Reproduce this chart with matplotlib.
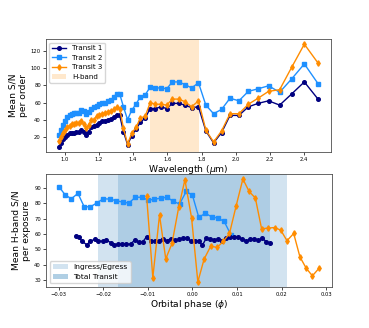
import matplotlib
matplotlib.use('Agg')
import matplotlib.pyplot as plt
from matplotlib.patches import Patch

# top panel: mean S/N per order
wave = [0.966, 0.978, 0.990, 1.003, 1.016, 1.029, 1.042, 1.055, 1.069, 1.083,
        1.097, 1.111, 1.126, 1.141, 1.156, 1.171, 1.187, 1.203, 1.219, 1.236,
        1.253, 1.270, 1.287, 1.304, 1.322, 1.344, 1.368, 1.392, 1.417, 1.443,
        1.471, 1.500, 1.531, 1.563, 1.596, 1.630, 1.666, 1.703, 1.742, 1.782,
        1.825, 1.870, 1.917, 1.966, 2.018, 2.073, 2.130, 2.191, 2.256, 2.326,
        2.400, 2.480]
sn_t1 = [8.5, 13, 17, 20, 22, 24, 25, 25, 26, 26,
         28, 26, 22, 26, 31, 33, 34, 36, 38, 39,
         40, 41, 43, 46, 45, 26, 11, 21, 29, 37,
         42, 53, 53, 55, 53, 59, 59, 57, 54, 55,
         27, 13, 25, 45, 45, 55, 59, 62, 57, 70,
         84, 64]
sn_t2 = [22, 28, 34, 39, 43, 45, 47, 48, 48, 48,
         51, 50, 47, 49, 53, 55, 56, 58, 59, 60,
         62, 63, 66, 70.5, 70, 55, 40, 51, 58, 67,
         69, 78, 77, 77, 76, 84, 84, 81, 77, 83,
         57, 47, 52, 65, 62, 73, 76, 79.5, 72, 87.5,
         105, 82]
sn_t3 = [15, 20, 25, 28, 31, 33, 35, 35, 36, 36,
         39, 35, 30, 34, 40, 40, 44, 46, 47, 48,
         49, 50, 52, 55, 53, 30, 12, 24, 31, 42,
         44, 60, 58, 58, 57, 64, 64, 61, 55, 62,
         28, 14, 27, 47, 47, 58, 65, 73, 75, 101,
         128, 106]
hband = [1.50, 1.785]

# bottom panel: H-band S/N per exposure
ph_t1 = [-0.0262, -0.0255, -0.0247, -0.0237, -0.0229, -0.0219, -0.0211, -0.0200, -0.0193, -0.0182,
         -0.0175, -0.0167, -0.0158, -0.0149, -0.0139, -0.0130, -0.0121, -0.0112, -0.0103, -0.0094,
         -0.0085, -0.0076, -0.0067, -0.0058, -0.0049, -0.0040, -0.0031, -0.0022, -0.0013, -0.0004,
         0.0005, 0.0014, 0.0022, 0.0031, 0.0040, 0.0049, 0.0058, 0.0067, 0.0076, 0.0085,
         0.0094, 0.0103, 0.0112, 0.0121, 0.0130, 0.0139, 0.0148, 0.0157, 0.0166, 0.0175]
sn_ph_t1 = [59, 57.8, 55.2, 53, 55.6, 56.5, 55.6, 55.2, 56, 54.3,
            53, 53.5, 53.5, 53.5, 53.5, 56, 54.8, 54.8, 58.3, 55.6,
            55.6, 55.6, 57, 55.6, 57, 56, 56.5, 57.4, 57.4, 55.6,
            55.2, 55.6, 52.6, 57.4, 57, 56, 57, 55.6, 57.4, 57.8,
            58.3, 57.8, 56.5, 55.6, 56.5, 57, 56, 57.4, 54.8, 54.3]
ph_t2 = [-0.0300, -0.0286, -0.0272, -0.0257, -0.0243, -0.0229, -0.0214, -0.0200, -0.0185, -0.0171,
         -0.0157, -0.0143, -0.0128, -0.0114, -0.0100, -0.0086, -0.0071, -0.0057, -0.0043, -0.0029,
         -0.0014, 0.0000, 0.0014, 0.0029, 0.0043, 0.0057, 0.0071, 0.0086]
sn_ph_t2 = [91, 85.7, 83, 86.5, 77.8, 77.8, 80.4, 83, 82.8, 81.7,
            80.9, 80.2, 84, 84, 82.2, 82.6, 83.5, 84, 81.3, 79.6,
            87.8, 85.2, 71, 73.5, 71.3, 70.4, 68.3, 59.6]
ph_t3 = [-0.0103, -0.0089, -0.0074, -0.0060, -0.0046, -0.0031, -0.0017, -0.0002, 0.0012, 0.0026,
         0.0041, 0.0055, 0.0069, 0.0083, 0.0098, 0.0113, 0.0127, 0.0141, 0.0155, 0.0170,
         0.0184, 0.0198, 0.0212, 0.0227, 0.0241, 0.0255, 0.0269, 0.0284]
sn_ph_t3 = [85, 31.7, 72.4, 43.9, 53.9, 77.4, 95.4, 70.4, 28.9, 43.7,
            52.2, 51.3, 55.2, 60.4, 78.5, 95.9, 87.8, 83.5, 63.5, 63.9,
            64.3, 62.6, 55.7, 60.4, 45.2, 37.8, 32.8, 37.8]
ingress = [-0.0212, 0.0213]
total = [-0.0167, 0.0173]

tick_fs = 3.8
lab_fs = 6.6
leg_fs = 5.1

fig = plt.figure(figsize=(3.69, 3.28), dpi=100)
ax1 = fig.add_axes([0.124, 0.537, 0.773, 0.344])
ax2 = fig.add_axes([0.124, 0.125, 0.776, 0.345])

ax1.plot(wave, sn_t1, '-o', color='navy', lw=1.0, ms=2.6, label='Transit 1')
ax1.plot(wave, sn_t2, '-s', color='dodgerblue', lw=1.0, ms=2.6, label='Transit 2')
ax1.plot(wave, sn_t3, '-d', color='darkorange', lw=1.0, ms=2.8, label='Transit 3')
ax1.axvspan(hband[0], hband[1], color='darkorange', alpha=0.2, lw=0, label='H-band')
ax1.set_xlabel(r'Wavelength ($\mu$m)', fontsize=lab_fs, labelpad=1)
ax1.set_ylabel('Mean S/N\nper order', fontsize=lab_fs, labelpad=2)
ax1.legend(loc='upper left', fontsize=leg_fs)
ax1.set_yticks([20, 40, 60, 80, 100, 120])

ax2.axvspan(ingress[0], ingress[1], color='tab:blue', alpha=0.2, lw=0)
ax2.axvspan(total[0], total[1], color='tab:blue', alpha=0.2, lw=0)
ax2.plot(ph_t2, sn_ph_t2, '-s', color='dodgerblue', lw=1.0, ms=2.6)
ax2.plot(ph_t1, sn_ph_t1, '-o', color='navy', lw=1.0, ms=2.6)
ax2.plot(ph_t3, sn_ph_t3, '-d', color='darkorange', lw=1.0, ms=2.8)
ax2.set_xlabel(r'Orbital phase ($\phi$)', fontsize=lab_fs, labelpad=1)
ax2.set_ylabel('Mean H-band S/N\nper exposure', fontsize=lab_fs, labelpad=2)
ax2.set_xticks([-0.03, -0.02, -0.01, 0.0, 0.01, 0.02, 0.03])
handles = [Patch(color='tab:blue', alpha=0.2, lw=0), Patch(color='tab:blue', alpha=0.35, lw=0)]
ax2.legend(handles, ['Ingress/Egress', 'Total Transit'], loc='lower left', fontsize=leg_fs + 0.3)

for ax in (ax1, ax2):
    ax.tick_params(labelsize=tick_fs, length=2, width=0.5, pad=1.5)
    for s in ax.spines.values():
        s.set_linewidth(0.6)
        s.set_color('0.3')

fig.savefig('out.png', dpi=100)
